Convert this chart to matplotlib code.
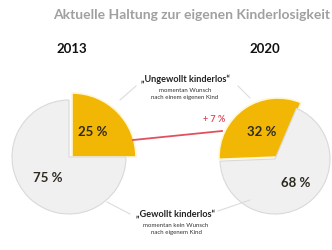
import matplotlib.pyplot as plt

### data ###
years = ["2013", "2020"]
share_2013 = [25, 75]  # ungewollt, gewollt
share_2020 = [32, 68]
diff_label = "+ 7 %"
title = "Aktuelle Haltung zur eigenen Kinderlosigkeit"
label_top = "\u201eUngewollt kinderlos\u201c"
sub_top = "momentan Wunsch\nnach einem eigenen Kind"
label_bottom = "\u201eGewollt kinderlos\u201c"
sub_bottom = "momentan kein Wunsch\nnach eigenem Kind"

YELLOW = "#f2b705"
GREY = "#f0f0f0"
GREY_EDGE = "#d9d9d9"
H = 250

plt.rcParams['font.family'] = ['Lato', 'DejaVu Sans']

fig = plt.figure(figsize=(3.32, 2.5), dpi=100)
ax = fig.add_axes([0, 0, 1, 1])


def draw_pie(vals, center, r, r_big, shift, start, ccw):
    wedges, _ = ax.pie(vals, center=center, radius=r, startangle=start,
                       counterclock=ccw, colors=[YELLOW, GREY], frame=True,
                       wedgeprops=dict(linewidth=0.8))
    # the "ungewollt" slice is pulled out and drawn a bit larger
    wedges[0].set_radius(r_big)
    wedges[0].set_center((center[0] + shift[0], center[1] + shift[1]))
    wedges[0].set_edgecolor("#fff6d6")
    wedges[0].set_linewidth(1.2)
    wedges[1].set_edgecolor(GREY_EDGE)
    return wedges


draw_pie(share_2013, (69, H - 157), 57, 64, (3, 0), 90, False)
draw_pie(share_2020, (275, H - 159), 55, 59, (3, 2), 67, True)
ax.set_xlim(0, 332)
ax.set_ylim(0, H)
ax.set_aspect('equal')
ax.axis('off')

# percent labels
pct_style = dict(ha='center', va='center', fontsize=9.5, fontweight='bold', color="#2e2a20")
ax.text(93, H - 132, f"{share_2013[0]} %", **pct_style)
ax.text(48, H - 178, f"{share_2013[1]} %", **pct_style)
ax.text(262, H - 132, f"{share_2020[0]} %", **pct_style)
ax.text(296, H - 183, f"{share_2020[1]} %", **pct_style)

# title + years
ax.text(53, H - 15, title, ha='left', va='center', fontsize=10,
        fontweight='bold', color="#a0a0a0")
ax.text(72, H - 49, years[0], ha='center', va='center', fontsize=9.5,
        fontweight='bold', color="#111111")
ax.text(265, H - 49, years[1], ha='center', va='center', fontsize=9.5,
        fontweight='bold', color="#111111")

# category annotations
ax.text(185, H - 79, label_top, ha='center', va='center', fontsize=6.6,
        fontweight='bold', color="#222222")
ax.text(185, H - 94, sub_top, ha='center', va='center', fontsize=4.4,
        color="#333333", linespacing=1.35)
ax.text(176, H - 215, label_bottom, ha='center', va='center', fontsize=6.6,
        fontweight='bold', color="#222222")
ax.text(176, H - 229, sub_bottom, ha='center', va='center', fontsize=4.4,
        color="#333333", linespacing=1.35)

# connector lines
line_style = dict(color="#dcdcdc", linewidth=0.8)
ax.plot([120, 136], [H - 100, H - 86], **line_style)
ax.plot([238, 250], [H - 86, H - 98], **line_style)
ax.plot([107, 130], [H - 202, H - 214], **line_style)
ax.plot([218, 250], [H - 211, H - 200], **line_style)

# change marker
ax.plot([133, 222], [H - 140, H - 131], color="#e2505e", linewidth=1.3)
ax.text(225, H - 120, diff_label, ha='right', va='center', fontsize=6.5,
        fontweight='bold', color="#e2505e")

fig.savefig("out.png", dpi=100, facecolor='white')
